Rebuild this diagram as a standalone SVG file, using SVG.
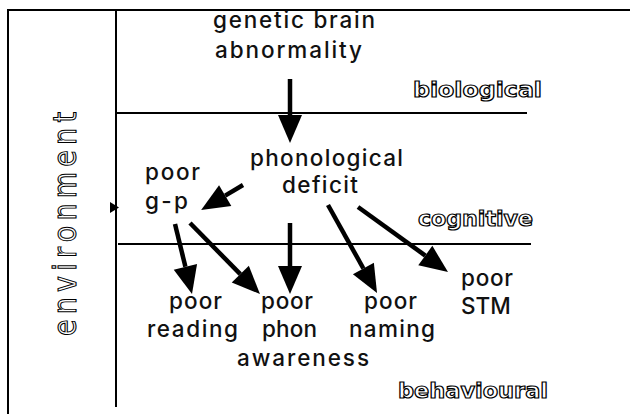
<svg xmlns="http://www.w3.org/2000/svg" width="630" height="414" viewBox="0 0 630 414">
<defs>
<style>
.frame{stroke:#000;stroke-width:2;fill:none}
.lvl{stroke:#000;stroke-width:2;fill:none}
.arr{stroke:#000;stroke-width:4.5;fill:none;marker-end:url(#head)}
.t{font-family:Inter,"DejaVu Sans",sans-serif;font-weight:500;font-size:22.5px;fill:#111}
.o{font-family:"DejaVu Sans",sans-serif;font-weight:bold;font-size:21px;fill:#fff;stroke:#000;stroke-width:1.2}
.env{font-family:"DejaVu Sans",sans-serif;font-size:27px;fill:#fff;stroke:#000;stroke-width:0.9}
</style>
<marker id="head" markerUnits="userSpaceOnUse" markerWidth="30" markerHeight="26" refX="0" refY="0" orient="auto" overflow="visible">
<path d="M0,-12 L28,0 L0,12 Z" fill="#000"/>
</marker>
</defs>
<rect width="630" height="414" fill="#fff"/>
<g id="frame">
<path class="frame" d="M8,414 V10 H630"/>
<path class="frame" d="M116,10 V407"/>
<path class="lvl" d="M116,113 H527"/>
<path class="lvl" d="M118,244 H531"/>
</g>
<g id="levels">
<text class="o" x="413" y="97" textLength="129" lengthAdjust="spacingAndGlyphs">biological</text>
<text class="o" x="418" y="226" textLength="115" lengthAdjust="spacingAndGlyphs">cognitive</text>
<text class="o" x="398" y="398" textLength="150" lengthAdjust="spacingAndGlyphs">behavioural</text>
<text class="env" transform="translate(76,336) rotate(-90) scale(1,1.2)" x="0" y="0" textLength="224" lengthAdjust="spacing">environment</text>
</g>
<g id="n-genetic">
<text class="t" x="213" y="28" textLength="162" lengthAdjust="spacing">genetic brain</text>
<text class="t" x="215" y="58" textLength="147" lengthAdjust="spacing">abnormality</text>
</g>
<g id="n-phon">
<text class="t" x="250" y="166" textLength="153" lengthAdjust="spacing">phonological</text>
<text class="t" x="282" y="193" textLength="76" lengthAdjust="spacing">deficit</text>
</g>
<g id="n-gp">
<text class="t" x="145" y="180" textLength="55" lengthAdjust="spacing">poor</text>
<text class="t" x="145" y="209" textLength="43" lengthAdjust="spacing">g-p</text>
</g>
<g id="n-reading">
<text class="t" x="169" y="309" textLength="53" lengthAdjust="spacing">poor</text>
<text class="t" x="147" y="337" textLength="91" lengthAdjust="spacing">reading</text>
</g>
<g id="n-phonaw">
<text class="t" x="261" y="309" textLength="52" lengthAdjust="spacing">poor</text>
<text class="t" x="262" y="337" textLength="55" lengthAdjust="spacing">phon</text>
<text class="t" x="237" y="366" textLength="132" lengthAdjust="spacing">awareness</text>
</g>
<g id="n-naming">
<text class="t" x="364" y="309" textLength="53" lengthAdjust="spacing">poor</text>
<text class="t" x="349" y="337" textLength="86" lengthAdjust="spacing">naming</text>
</g>
<g id="n-stm">
<text class="t" x="461" y="286" textLength="52" lengthAdjust="spacing">poor</text>
<text class="t" x="461" y="314">STM</text>
</g>
<g id="connectors">
<path class="arr" d="M290,79 L290,115"/>
<path class="arr" d="M243,185 L225.2,195.6"/>
<path class="arr" d="M175,224 L185.4,266.8"/>
<path class="arr" d="M190,223 L240.3,274.1"/>
<path class="arr" d="M290,223 L290,266"/>
<path class="arr" d="M328,205 L363.4,268.5"/>
<path class="arr" d="M358,207 L425.3,255.6"/>
<path d="M110,202 L119,207.5 L110,213 Z" fill="#000"/>
</g>
</svg>
